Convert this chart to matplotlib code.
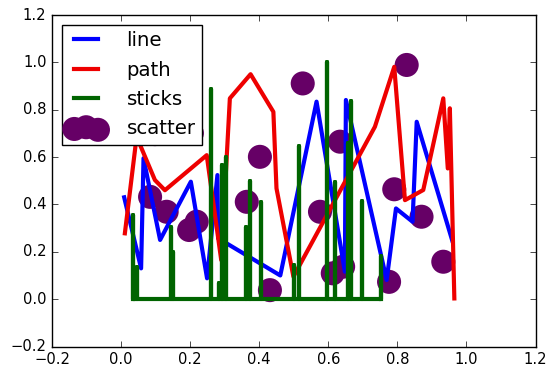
import matplotlib
matplotlib.use("Agg")
import matplotlib.pyplot as plt

plt.style.use("classic")

# line series
line_x = [0.009, 0.058, 0.065, 0.113, 0.202, 0.249, 0.279, 0.281, 0.461, 0.566,
          0.648, 0.651, 0.769, 0.796, 0.844, 0.856, 0.959]
line_y = [0.43, 0.13, 0.595, 0.25, 0.496, 0.088, 0.524, 0.257, 0.10, 0.834,
          0.116, 0.841, 0.081, 0.383, 0.327, 0.749, 0.247]

# path series
path_x = [0.011, 0.045, 0.098, 0.127, 0.248, 0.29, 0.315, 0.375, 0.441, 0.45,
          0.499, 0.735, 0.791, 0.822, 0.875, 0.933, 0.946, 0.952, 0.965]
path_y = [0.278, 0.686, 0.503, 0.46, 0.608, 0.165, 0.848, 0.95, 0.791, 0.468,
          0.095, 0.728, 0.981, 0.418, 0.461, 0.848, 0.552, 0.806, 0.003]

# sticks series
stick_x = [0.035, 0.045, 0.146, 0.151, 0.260, 0.283, 0.291, 0.304, 0.363, 0.373,
           0.405, 0.501, 0.515, 0.596, 0.619, 0.658, 0.666, 0.697, 0.752]
stick_h = [0.355, 0.136, 0.306, 0.198, 0.886, 0.068, 0.568, 0.601, 0.306, 0.499,
           0.411, 0.144, 0.648, 1.003, 0.496, 0.658, 0.838, 0.414, 0.182]

# scatter series
scat_x = [0.098, 0.205, 0.084, 0.132, 0.197, 0.219, 0.364, 0.402, 0.526, 0.431,
          0.634, 0.576, 0.613, 0.643, 0.776, 0.791, 0.827, 0.870, 0.933]
scat_y = [0.697, 0.701, 0.432, 0.369, 0.292, 0.327, 0.411, 0.601, 0.911, 0.038,
          0.665, 0.369, 0.109, 0.137, 0.073, 0.464, 0.989, 0.348, 0.158]

fig = plt.figure(figsize=(5.57, 3.77), dpi=100, facecolor="white")
ax = fig.add_axes([52 / 557, 1 - 346.5 / 377, 483.5 / 557, 331.5 / 377])
ax.set_facecolor("white")

ax.scatter(scat_x, scat_y, s=300, c="#660066", edgecolors="none", label="scatter")
ax.plot(line_x, line_y, color="#0000ff", lw=3, label="line")
ax.plot(path_x, path_y, color="#ee0000", lw=3, label="path")

sx, sy = [], []
for x, h in zip(stick_x, stick_h):
    sx += [x, x, x]
    sy += [0, h, 0]
ax.plot(sx, sy, color="#006400", lw=3, label="sticks")

ax.set_xlim(-0.2, 1.2)
ax.set_ylim(-0.2, 1.2)
ax.tick_params(labelsize=10.6)

handles, labels = ax.get_legend_handles_labels()
order = [1, 2, 3, 0]
leg = ax.legend([handles[i] for i in order], [labels[i] for i in order],
                loc="upper left", fontsize=14.2, handlelength=1.8,
                handletextpad=1.15, borderaxespad=0.5, labelspacing=0.52,
                borderpad=0.33, scatterpoints=3, fancybox=False, frameon=True)
leg.get_frame().set_edgecolor("black")
leg.get_frame().set_linewidth(1.0)

fig.savefig("out.png", dpi=100, facecolor="white")
